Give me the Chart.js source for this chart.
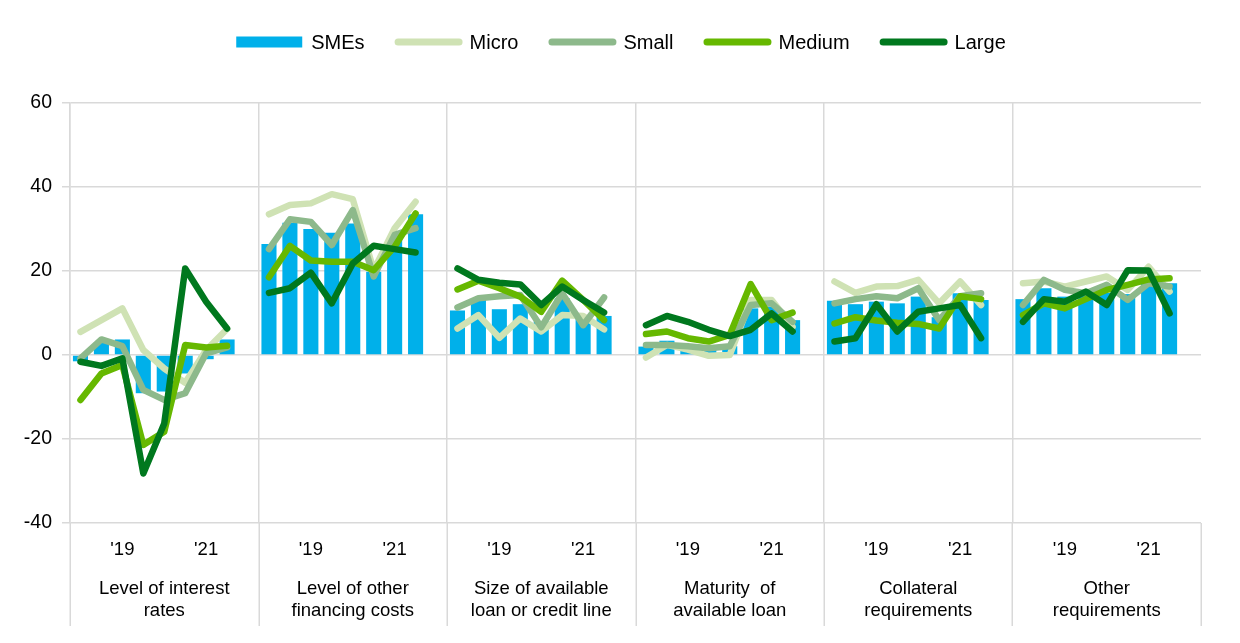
<!DOCTYPE html>
<html><head><meta charset="utf-8">
<script src="https://cdn.jsdelivr.net/npm/chart.js@4.4.1/dist/chart.umd.min.js"></script>
<style>html,body{margin:0;padding:0;background:#fff;}#wrap{width:1240px;height:643px;}</style>
</head><body><div id="wrap"><canvas id="c" width="1240" height="643"></canvas></div>
<script>
// ---- data ----
const groupNames = [
  ['Level of interest', 'rates'],
  ['Level of other', 'financing costs'],
  ['Size of available', 'loan or credit line'],
  ['Maturity  of', 'available loan'],
  ['Collateral', 'requirements'],
  ['Other', 'requirements']
];
const periods = ['H1 18', 'H2 18', 'H1 19', 'H2 19', 'H1 20', 'H2 20', 'H1 21', 'H2 21'];
const periodTicks = ['', '', "'19", '', '', '', "'21", ''];
const yTicks = [-40, -20, 0, 20, 40, 60];

const smes = [
  [-1.5, 3, 3.7, -9.1, -8.7, -4.4, -1, 3.7],
  [26.4, 31.5, 30, 29.1, 31.3, 19.8, 28, 33.5],
  [10.6, 13.1, 10.9, 12.1, 8, 13.5, 9, 9.3],
  [2, 3.4, 2.4, 1.8, 2.1, 11.1, 11.5, 8.3],
  [12.9, 12.1, 12.7, 12.3, 13.9, 9, 14.7, 13.1],
  [13.3, 15.9, 13.9, 14.3, 14.8, 14.5, 17.1, 17.1]
];
const micro = [
  [5.5, 8.3, 11.1, 1.2, -3.2, -6.6, 1.2, 6.2],
  [33.5, 35.7, 36.1, 38.3, 37.1, 20.2, 30.2, 36.5],
  [6.3, 9.5, 4.1, 8.7, 5.6, 9.5, 9.3, 6.1],
  [-0.6, 2.4, 1.3, -0.2, 0, 13.1, 13.1, 6.7],
  [17.5, 14.8, 16.3, 16.4, 17.9, 12.3, 17.5, 11.9],
  [17.1, 17.5, 16.3, 17.5, 18.7, 15.5, 21, 15.1]
];
const small = [
  [-0.8, 3.7, 2.1, -8.3, -10.7, -9.1, 0.4, 1.8],
  [25.2, 32.3, 31.7, 26.2, 34.5, 18.7, 28.6, 30.2],
  [11.3, 13.5, 14, 14.3, 6.6, 14.7, 7.1, 13.7],
  [2.4, 2.4, 2.1, 1.6, 2.1, 11.9, 12.3, 7.9],
  [12.3, 13.3, 14, 13.5, 15.9, 8.3, 14, 14.7],
  [11.9, 17.9, 15.5, 14.7, 16.7, 13.1, 17.1, 16.3]
];
const medium = [
  [-10.7, -4.4, -2.4, -21.4, -18.3, 2.4, 1.8, 2.2],
  [18.5, 26, 22.5, 22.2, 22.2, 20.2, 25.8, 33.7],
  [15.6, 17.7, 15.9, 13.9, 10.3, 17.7, 13.1, 8.3],
  [5, 5.6, 4, 3.2, 4.8, 16.9, 8.3, 10.1],
  [7.5, 9, 8.2, 7.7, 7.4, 6.3, 14, 13.3],
  [9.5, 12.3, 11.1, 13.3, 15.5, 16.7, 18, 18.3]
];
const large = [
  [-1.6, -2.6, -0.8, -28.2, -16.3, 20.6, 12.7, 6.3],
  [14.8, 15.9, 19.6, 12.3, 21.8, 26, 25.2, 24.4],
  [20.6, 17.9, 17.2, 16.8, 11.9, 16.3, 13.1, 10.1],
  [7.1, 9.3, 7.9, 6, 4.5, 6, 9.9, 5.6],
  [3.2, 4, 12.1, 5.6, 10.3, 11.1, 11.9, 4],
  [7.9, 13.3, 12.7, 15.1, 11.9, 20.2, 20.1, 9.9]
];

// ---- build ----
const SLOTS = periods.length + 1;
const labels = [];
groupNames.forEach((g, gi) => {
  periods.forEach(p => labels.push(g.join(' ') + ' ' + p));
  labels.push(g.join(' ') + ' gap');
});
function flat(series) {
  const out = [];
  series.forEach(arr => { arr.forEach(v => out.push(v)); out.push(null); });
  return out;
}
const COLORS = { smes: '#00b0ea', micro: '#cfe2b4', small: '#8db98b', medium: '#66b800', large: '#00781e' };
const FONT = '"Liberation Sans", Arial, sans-serif';
Chart.defaults.font.family = FONT;
Chart.defaults.color = '#000';

function lineDs(label, data, color, order) {
  return {
    type: 'line', label, data: flat(data), borderColor: color, backgroundColor: color,
    borderWidth: 6.5, pointRadius: 0, pointHoverRadius: 0, tension: 0, spanGaps: false,
    borderCapStyle: 'round', borderJoinStyle: 'round', order
  };
}

const legendItems = [
  { label: 'SMEs', color: COLORS.smes, kind: 'bar' },
  { label: 'Micro', color: COLORS.micro, kind: 'line' },
  { label: 'Small', color: COLORS.small, kind: 'line' },
  { label: 'Medium', color: COLORS.medium, kind: 'line' },
  { label: 'Large', color: COLORS.large, kind: 'line' }
];

const decor = {
  id: 'decor',
  afterDraw(chart) {
    const ctx = chart.ctx, a = chart.chartArea;
    const slot = (a.right - a.left) / labels.length;
    ctx.save();
    // group separators below axis
    ctx.strokeStyle = '#d9d9d9'; ctx.lineWidth = 1.5;
    for (let g = 0; g <= groupNames.length; g++) {
      const x = Math.round(a.left + g * SLOTS * slot) + 0.25;
      ctx.beginPath(); ctx.moveTo(x, a.bottom); ctx.lineTo(x, 626); ctx.stroke();
    }
    // group labels
    ctx.fillStyle = '#000'; ctx.textAlign = 'center'; ctx.textBaseline = 'middle';
    ctx.font = '18.5px ' + FONT;
    groupNames.forEach((g, gi) => {
      const cx = a.left + (gi * SLOTS + SLOTS / 2) * slot;
      ctx.fillText(g[0], cx, 589);
      ctx.fillText(g[1], cx, 611);
    });
    // legend
    ctx.font = '20px ' + FONT;
    const sw = 68, gapT = 7, gapI = 30;
    let total = 0;
    const widths = legendItems.map(it => ctx.measureText(it.label).width);
    widths.forEach(w => total += sw + gapT + w);
    total += gapI * (legendItems.length - 1);
    let x = chart.width / 2 + 1 - total / 2;
    const y = 42;
    ctx.textAlign = 'left';
    legendItems.forEach((it, i) => {
      if (it.kind === 'bar') {
        ctx.fillStyle = it.color; ctx.fillRect(x, y - 5.5, sw - 2, 11);
      } else {
        ctx.strokeStyle = it.color; ctx.lineWidth = 7; ctx.lineCap = 'round';
        ctx.beginPath(); ctx.moveTo(x + 3.5, y); ctx.lineTo(x + sw - 3.5, y); ctx.stroke();
      }
      ctx.fillStyle = '#000';
      ctx.fillText(it.label, x + sw + gapT, y + 1);
      x += sw + gapT + widths[i] + gapI;
    });
    ctx.restore();
  }
};

new Chart(document.getElementById('c'), {
  type: 'bar',
  data: {
    labels,
    datasets: [
      { type: 'bar', label: 'SMEs', data: flat(smes), backgroundColor: COLORS.smes,
        barPercentage: 0.72, categoryPercentage: 1, order: 10 },
      lineDs('Micro', micro, COLORS.micro, 4),
      lineDs('Small', small, COLORS.small, 3),
      lineDs('Medium', medium, COLORS.medium, 2),
      lineDs('Large', large, COLORS.large, 1)
    ]
  },
  options: {
    responsive: false, animation: false, events: [],
    layout: { padding: { top: 103, right: 39, bottom: 0, left: 0 } },
    plugins: { legend: { display: false }, tooltip: { enabled: false } },
    scales: {
      x: {
        offset: true,
        grid: {
          offset: true, drawTicks: false, lineWidth: 1.5,
          color: c => (c.index % SLOTS === 0 ? '#d9d9d9' : 'rgba(0,0,0,0)')
        },
        border: { display: false },
        ticks: {
          autoSkip: false, maxRotation: 0, minRotation: 0, padding: 16,
          font: { size: 18.5 },
          callback: (v, i) => (i % SLOTS < periods.length ? periodTicks[i % SLOTS] : '')
        },
        afterFit: s => { s.height = 120; }
      },
      y: {
        min: yTicks[0], max: yTicks[yTicks.length - 1],
        afterBuildTicks: s => { s.ticks = yTicks.map(v => ({ value: v })); },
        grid: { color: '#d9d9d9', lineWidth: 1.5, tickLength: 8 },
        border: { color: '#d9d9d9', width: 1.5 },
        ticks: { padding: 10, font: { size: 19.5 } },
        afterFit: s => { s.width = 70; }
      }
    }
  },
  plugins: [decor]
});
</script>
</body></html>
